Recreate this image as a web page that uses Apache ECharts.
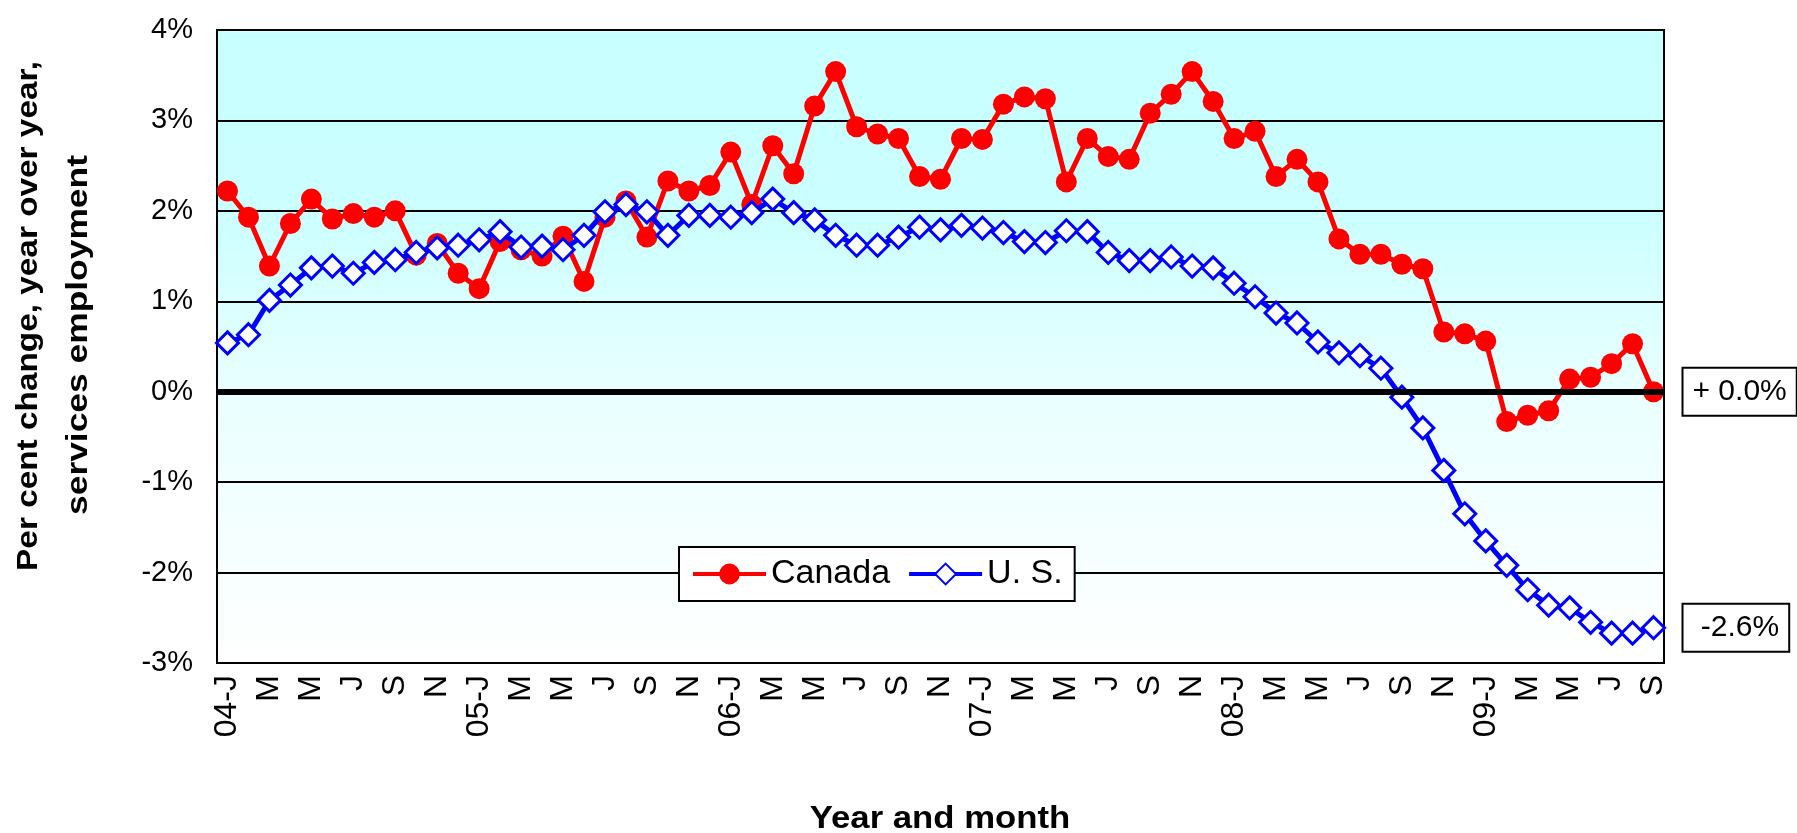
<!DOCTYPE html>
<html>
<head>
<meta charset="utf-8">
<title>Services employment, Canada vs U.S.</title>
<script src="https://cdn.jsdelivr.net/npm/echarts@6.0.0/dist/echarts.min.js"></script>
<style>
    html, body { margin: 0; padding: 0; background: #fff; }
    .chart { width: 1797px; height: 833px; }
</style>
</head>
<body>
<div class="chart"></div>
<script>
// 年份和月份缩写，用来拼出横轴类目
var years = ['04', '05', '06', '07', '08', '09'];
var monthLetters = ['J', 'F', 'M', 'A', 'M', 'J', 'J', 'A', 'S', 'O', 'N', 'D'];
var lastMonth = 9; // 09-S

// 纵轴刻度
var yTicks = [-3, -2, -1, 0, 1, 2, 3, 4];

// 加拿大 服务业就业 同比 %
var canada = [
    2.22, 1.93, 1.39, 1.86, 2.13, 1.91, 1.97, 1.93, 2.00, 1.51, 1.64, 1.31,
    1.14, 1.66, 1.57, 1.50, 1.72, 1.22, 1.93, 2.11, 1.71, 2.33, 2.22, 2.28,
    2.65, 2.07, 2.72, 2.41, 3.16, 3.54, 2.93, 2.85, 2.80, 2.38, 2.35, 2.80,
    2.79, 3.18, 3.26, 3.24, 2.32, 2.80, 2.60, 2.57, 3.08, 3.29, 3.54, 3.21,
    2.80, 2.88, 2.38, 2.57, 2.32, 1.69, 1.52, 1.52, 1.41, 1.36, 0.66, 0.64,
    0.56, -0.33, -0.26, -0.21, 0.14, 0.16, 0.31, 0.53, 0.00
];

// 美国 服务业就业 同比 %
var us = [
    0.54, 0.63, 1.01, 1.18, 1.37, 1.39, 1.31, 1.43, 1.46, 1.54, 1.59, 1.62,
    1.68, 1.77, 1.60, 1.61, 1.57, 1.73, 1.99, 2.07, 1.99, 1.73, 1.95, 1.95,
    1.93, 1.98, 2.13, 1.98, 1.90, 1.73, 1.62, 1.62, 1.71, 1.82, 1.79, 1.84,
    1.81, 1.76, 1.66, 1.65, 1.78, 1.77, 1.54, 1.45, 1.45, 1.49, 1.39, 1.37,
    1.20, 1.05, 0.87, 0.76, 0.55, 0.43, 0.40, 0.26, -0.06, -0.40, -0.87, -1.35,
    -1.65, -1.92, -2.19, -2.36, -2.39, -2.55, -2.67, -2.67, -2.61
];

(function () {
    var font = 'Liberation Sans, Arial, sans-serif';

    // 类目：一月写成 "04-J"，其余月份只写首字母
    var categories = [];
    years.forEach(function (yy, yi) {
        var n = yi === years.length - 1 ? lastMonth : 12;
        for (var m = 0; m < n; m++) {
            categories.push(m === 0 ? yy + '-J' : monthLetters[m]);
        }
    });

    // 末端标签：+ 0.0% / -2.6%
    function endText(p) {
        var v = p.value;
        return v >= 0 ? '+ ' + v.toFixed(1) + '%' : ' ' + v.toFixed(1) + '%';
    }
    var endLabel = {
        show: true,
        formatter: endText,
        fontFamily: font,
        fontSize: 30,
        color: '#000',
        backgroundColor: '#fff',
        borderColor: '#000',
        borderWidth: 2,
        padding: [9, 9, 7, 9],
        distance: 30
    };

    var myChart = echarts.init(document.querySelector('.chart'));
    var option = {
        animation: false,
        backgroundColor: '#fff',
        textStyle: { fontFamily: font },
        grid: {
            left: 217,
            right: 133,
            top: 30,
            bottom: 170,
            show: true,
            borderColor: '#000',
            borderWidth: 2,
            // 绘图区背景：上青下白渐变
            backgroundColor: {
                type: 'linear', x: 0, y: 0, x2: 0, y2: 1,
                colorStops: [
                    { offset: 0, color: '#c8ffff' },
                    { offset: 0.3, color: '#ccffff' },
                    { offset: 0.57, color: '#e9ffff' },
                    { offset: 1, color: '#ffffff' }
                ]
            }
        },
        legend: {
            left: 679,
            top: 547,
            padding: [10, 12],
            itemWidth: 73,
            itemHeight: 26,
            itemGap: 17,
            backgroundColor: '#fff',
            borderColor: '#000',
            borderWidth: 2,
            lineStyle: { width: 4 },
            textStyle: { fontSize: 34, color: '#000', fontFamily: font },
            data: ['Canada', 'U. S.']
        },
        xAxis: {
            type: 'category',
            data: categories,
            boundaryGap: true,
            axisTick: { show: false },
            axisLine: { lineStyle: { color: '#000', width: 2 } },
            axisLabel: {
                interval: 1,
                rotate: 90,
                margin: 12,
                fontSize: 32,
                color: '#000',
                fontFamily: font
            }
        },
        yAxis: {
            type: 'value',
            min: yTicks[0],
            max: yTicks[yTicks.length - 1],
            interval: 1,
            axisLine: { show: true, lineStyle: { color: '#000', width: 2 } },
            axisTick: { show: false },
            axisLabel: {
                margin: 24,
                fontSize: 29,
                color: '#000',
                fontFamily: font,
                formatter: function (v) { return v + '%'; }
            },
            splitLine: { lineStyle: { color: '#000', width: 2 } }
        },
        // 坐标轴标题
        graphic: [
            {
                type: 'text',
                x: 29, y: 316,
                rotation: Math.PI / 2,
                scaleX: 1.15,
                style: {
                    text: 'Per cent change, year over year,',
                    fontSize: 29, fontWeight: 'bold', fontFamily: font, fill: '#000',
                    align: 'center', verticalAlign: 'middle',
                    textAlign: 'center', textVerticalAlign: 'middle'
                }
            },
            {
                type: 'text',
                x: 79, y: 335,
                rotation: Math.PI / 2,
                scaleX: 1.22,
                style: {
                    text: 'services employment',
                    fontSize: 29, fontWeight: 'bold', fontFamily: font, fill: '#000',
                    align: 'center', verticalAlign: 'middle',
                    textAlign: 'center', textVerticalAlign: 'middle'
                }
            },
            {
                type: 'text',
                x: 940, y: 819,
                scaleX: 1.12,
                style: {
                    text: 'Year and month',
                    fontSize: 31, fontWeight: 'bold', fontFamily: font, fill: '#000',
                    align: 'center', verticalAlign: 'middle',
                    textAlign: 'center', textVerticalAlign: 'middle'
                }
            }
        ],
        series: [
            {
                name: 'Canada',
                type: 'line',
                data: canada,
                color: '#ff0000',
                showAllSymbol: true,
                lineStyle: { color: '#ff0000', width: 5 },
                symbol: 'circle',
                symbolSize: 21,
                itemStyle: { color: '#ff0000' },
                endLabel: endLabel,
                // 0% 粗线
                markLine: {
                    silent: true,
                    symbol: 'none',
                    label: { show: false },
                    lineStyle: { color: '#000', width: 6, type: 'solid' },
                    data: [{ yAxis: 0 }]
                },
                z: 3
            },
            {
                name: 'U. S.',
                type: 'line',
                data: us,
                color: '#0000ff',
                showAllSymbol: true,
                lineStyle: { color: '#0000ff', width: 5 },
                symbol: 'diamond',
                symbolSize: 22,
                itemStyle: { color: '#fff', borderColor: '#0000ff', borderWidth: 3 },
                endLabel: endLabel,
                z: 4
            }
        ]
    };
    myChart.setOption(option);
    window.addEventListener('resize', function () {
        myChart.resize();
    });
})();
</script>
</body>
</html>
